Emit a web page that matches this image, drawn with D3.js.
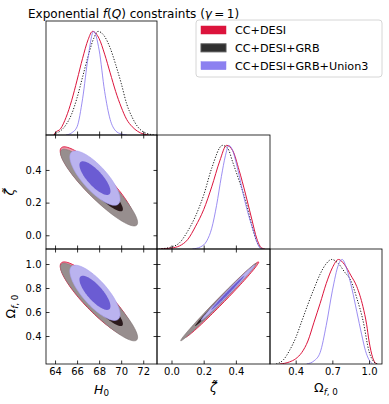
<!DOCTYPE html>
<html><head><meta charset="utf-8">
<script src="https://cdn.jsdelivr.net/npm/d3@7"></script>
<style>body{margin:0;background:#fff}svg text{font-family:"DejaVu Sans",sans-serif;fill:#000}</style>
</head><body><svg id="c" width="389" height="404"></svg>
<script>
// ---------- data ----------
const seriesNames = ["CC+DESI", "CC+DESI+GRB", "CC+DESI+GRB+Union3"];
const lineColors = ["#dc143c", "#000000", "#7b68ee"];
const legendFill = ["#dc143c", "#303030", "#8c80f0"];
const fillOuter = ["#ef9aab", "#978e8e", "#bab3ef"];
const fillInner = ["#dc143c", "#2b1a1c", "#6b5cd3"];

// 2D summary (per series): means, standard deviations, correlations
const meanH0 = [67.80, 67.99, 67.62];
const meanZeta = [0.314, 0.292, 0.350];
const meanOmega = [0.704, 0.683, 0.760];
const sdH0 = [1.36, 1.43, 0.93];
const sdZeta = [0.093, 0.096, 0.068];
const sdOmega = [0.128, 0.132, 0.094];
const corrH0Zeta = [-0.89, -0.91, -0.78];
const corrH0Omega = [-0.89, -0.91, -0.78];
const corrZetaOmega = [0.993, 0.995, 0.995];
const contourLevels = [2.448, 1.515]; // 95%, 68%

// 1D marginals [value, relative density]
const pdfH0 = [
  [[63.9,0],[64.0,0.02],[64.5,0.06],[65.0,0.17],[65.5,0.33],[66.0,0.53],[66.5,0.74],[67.0,0.92],[67.4,1.0],[68.0,0.93],[68.5,0.78],[69.0,0.60],[69.5,0.42],[70.0,0.27],[70.5,0.15],[71.0,0.08],[71.5,0.035],[72.0,0.01],[72.5,0]],
  [[63.9,0],[64.0,0.01],[64.5,0.04],[65.0,0.10],[65.5,0.20],[66.0,0.36],[66.5,0.56],[67.0,0.76],[67.5,0.93],[67.9,1.0],[68.5,0.95],[69.0,0.84],[69.5,0.68],[70.0,0.50],[70.5,0.30],[71.0,0.17],[71.5,0.08],[72.0,0.03],[72.5,0.01],[73.0,0]],
  [[65.0,0],[65.5,0.02],[66.0,0.08],[66.5,0.35],[67.0,0.75],[67.5,1.0],[68.0,0.82],[68.5,0.42],[69.0,0.15],[69.5,0.04],[70.0,0.01],[70.5,0]]
];
const pdfZeta = [
  [[-0.07,0],[0.0,0.01],[0.05,0.03],[0.10,0.09],[0.15,0.22],[0.20,0.38],[0.25,0.60],[0.30,0.85],[0.342,1.0],[0.38,0.95],[0.42,0.76],[0.46,0.53],[0.50,0.28],[0.53,0.10],[0.56,0.01],[0.58,0]],
  [[-0.08,0],[0.0,0.02],[0.05,0.06],[0.10,0.17],[0.15,0.32],[0.20,0.52],[0.25,0.78],[0.317,1.0],[0.35,0.97],[0.38,0.84],[0.42,0.66],[0.46,0.47],[0.50,0.22],[0.53,0.07],[0.56,0]],
  [[0.13,0],[0.18,0.02],[0.22,0.08],[0.25,0.20],[0.28,0.42],[0.31,0.70],[0.335,0.90],[0.356,1.0],[0.38,0.95],[0.41,0.78],[0.45,0.50],[0.48,0.32],[0.51,0.17],[0.53,0.07],[0.55,0.01],[0.57,0]]
];
const pdfOmega = [
  [[0.27,0],[0.35,0.02],[0.40,0.05],[0.45,0.11],[0.50,0.22],[0.55,0.40],[0.60,0.58],[0.65,0.77],[0.70,0.92],[0.75,1.0],[0.80,0.95],[0.85,0.85],[0.90,0.74],[0.95,0.55],[0.98,0.38],[1.00,0.22],[1.03,0.06],[1.06,0]],
  [[0.24,0],[0.30,0.04],[0.35,0.13],[0.40,0.25],[0.45,0.41],[0.50,0.57],[0.55,0.72],[0.60,0.86],[0.65,0.96],[0.695,1.0],[0.75,0.96],[0.80,0.88],[0.85,0.80],[0.90,0.63],[0.95,0.42],[1.00,0.12],[1.04,0.02],[1.07,0]],
  [[0.49,0],[0.55,0.03],[0.60,0.11],[0.65,0.37],[0.70,0.70],[0.75,0.95],[0.78,1.0],[0.82,0.90],[0.86,0.72],[0.90,0.50],[0.94,0.28],[0.97,0.13],[1.00,0.04],[1.03,0]]
];

const ticksH0 = [64, 66, 68, 70, 72];
const ticksZeta = [0.0, 0.2, 0.4];
const ticksOmegaX = [0.4, 0.7, 1.0];
const ticksOmegaY = [0.4, 0.6, 0.8, 1.0];
const rangeH0 = [63.18, 73.25];
const rangeZetaX = [-0.09, 0.612];
const rangeZetaY = [-0.084, 0.614];
const rangeOmegaX = [0.19, 1.106];
const rangeOmegaY = [0.167, 1.125];
const rangeDensity = [0, 1.1];

// ---------- layout ----------
const colX = [46, 157, 270, 382];
const rowY = [21, 135, 249, 364];
const TICK = 3.5;

const svg = d3.select("#c");
const xH0 = d3.scaleLinear().domain(rangeH0).range([colX[0], colX[1]]);
const xZeta = d3.scaleLinear().domain(rangeZetaX).range([colX[1], colX[2]]);
const xOmega = d3.scaleLinear().domain(rangeOmegaX).range([colX[2], colX[3]]);
const yZeta = d3.scaleLinear().domain(rangeZetaY).range([rowY[2], rowY[1]]);
const yOmega = d3.scaleLinear().domain(rangeOmegaY).range([rowY[3], rowY[2]]);
const yDens = [0,1,2].map(r => d3.scaleLinear().domain(rangeDensity).range([rowY[r+1], rowY[r]]));
const xScales = [xH0, xZeta, xOmega];
const yScales = [null, yZeta, yOmega];
const xTicks = [ticksH0, ticksZeta, ticksOmegaX];
const yTicks = [null, ticksZeta, ticksOmegaY];
const fmt = [d3.format("d"), d3.format(".1f"), d3.format(".1f")];

const defs = svg.append("defs");
function clipFor(c, r) {
  const id = `clip${c}${r}`;
  defs.append("clipPath").attr("id", id).append("rect")
    .attr("x", colX[c]).attr("y", rowY[r]).attr("width", colX[c+1]-colX[c]).attr("height", rowY[r+1]-rowY[r]);
  return `url(#${id})`;
}

function ellipse(mx, my, sx, sy, rho, k) {
  return d3.range(0, 96).map(i => {
    const t = 2 * Math.PI * i / 96, u = Math.cos(t), v = Math.sin(t);
    return [mx + sx * k * u, my + sy * k * (rho * u + Math.sqrt(1 - rho * rho) * v)];
  });
}

const means = [meanH0, meanZeta, meanOmega];
const sds = [sdH0, sdZeta, sdOmega];
function corr(a, b, s) {
  const key = [a, b].sort().join("");
  if (key === "01") return corrH0Zeta[s];
  if (key === "02") return corrH0Omega[s];
  return corrZetaOmega[s];
}

// 2D panels
[[0,1],[0,2],[1,2]].forEach(([c, r]) => {
  const xs = xScales[c], ys = yScales[r];
  const g = svg.append("g").attr("clip-path", clipFor(c, r));
  const line = d3.line().x(d => xs(d[0])).y(d => ys(d[1])).curve(d3.curveLinearClosed);
  [0,1,2].forEach(s => {
    const rho = corr(c, r, s);
    contourLevels.forEach((k, li) => {
      const pts = ellipse(means[c][s], means[r][s], sds[c][s], sds[r][s], rho, k);
      const p = g.append("path").attr("d", line(pts))
        .attr("fill", li === 0 ? fillOuter[s] : fillInner[s]);
      if (li === 0) {
        p.attr("stroke", s === 0 ? lineColors[0] : (s === 1 ? "#7d7474" : "#a79ff0"))
         .attr("stroke-width", s === 0 ? 0.9 : 0.6);
      }
    });
  });
});

// 1D panels
const pdfs = [pdfH0, pdfZeta, pdfOmega];
[0,1,2].forEach(c => {
  const xs = xScales[c], ys = yDens[c];
  const g = svg.append("g").attr("clip-path", clipFor(c, c));
  const line = d3.line().x(d => xs(d[0])).y(d => ys(d[1])).curve(d3.curveMonotoneX);
  [0,1,2].forEach(s => {
    g.append("path").attr("d", line(pdfs[c][s])).attr("fill", "none")
      .attr("stroke", lineColors[s])
      .attr("stroke-opacity", s === 2 ? 0.75 : 1)
      .attr("stroke-width", s === 1 ? 0.9 : 1)
      .attr("stroke-dasharray", s === 1 ? "1.2,1.6" : null);
  });
});

// axes & frames
function styleAxis(g) {
  g.select(".domain").remove();
  g.selectAll(".tick line").attr("stroke", "#000").attr("stroke-width", 0.8);
  g.selectAll(".tick text").attr("font-size", 10).attr("font-family", "DejaVu Sans");
}
const panels = [[0,0],[0,1],[1,1],[0,2],[1,2],[2,2]];
panels.forEach(([c, r]) => {
  const xs = xScales[c];
  const bottomLabels = r === 2;
  svg.append("g").attr("transform", `translate(0,${rowY[r+1]})`)
    .call(d3.axisBottom(xs).tickValues(xTicks[c]).tickSize(-TICK).tickPadding(3.9)
      .tickFormat(bottomLabels ? fmt[c] : () => ""))
    .call(styleAxis);
  if (c !== r) {
    const ys = yScales[r];
    svg.append("g").attr("transform", `translate(0,${rowY[r]})`)
      .call(d3.axisTop(xs).tickValues(xTicks[c]).tickSize(-TICK).tickFormat(() => ""))
      .call(styleAxis);
    svg.append("g").attr("transform", `translate(${colX[c]},0)`)
      .call(d3.axisLeft(ys).tickValues(yTicks[r]).tickSize(-TICK).tickPadding(4.5)
        .tickFormat(c === 0 ? fmt[r] : () => ""))
      .call(styleAxis);
    svg.append("g").attr("transform", `translate(${colX[c+1]},0)`)
      .call(d3.axisRight(ys).tickValues(yTicks[r]).tickSize(-TICK).tickFormat(() => ""))
      .call(styleAxis);
  }
  svg.append("rect").attr("x", colX[c]).attr("y", rowY[r])
    .attr("width", colX[c+1]-colX[c]).attr("height", rowY[r+1]-rowY[r])
    .attr("fill", "none").attr("stroke", "#000").attr("stroke-width", 0.8);
});

// axis labels
const midX = c => (colX[c] + colX[c+1]) / 2;
const midY = r => (rowY[r] + rowY[r+1]) / 2;
const lab = 12.5;
let t = svg.append("text").attr("x", midX(0)).attr("y", 393.5).attr("text-anchor", "middle").attr("font-size", lab);
t.append("tspan").attr("font-style", "italic").text("H");
t.append("tspan").attr("font-size", lab*0.7).attr("dy", 2.5).text("0");
function zetaTilde(g) {
  g.append("tspan").attr("font-style", "italic").text("\u03B6\u0303");
}
t = svg.append("text").attr("x", midX(1)).attr("y", 392).attr("text-anchor", "middle").attr("font-size", lab);
zetaTilde(t);
function omegaLab(g) {
  g.append("tspan").text("\u03A9");
  g.append("tspan").attr("font-size", lab*0.7).attr("dy", 2.5).attr("font-style", "italic").text("f");
  g.append("tspan").attr("font-size", lab*0.7).text(", 0");
}
t = svg.append("text").attr("x", midX(2)).attr("y", 392).attr("text-anchor", "middle").attr("font-size", lab);
omegaLab(t);
t = svg.append("text").attr("transform", `translate(14,${midY(1)}) rotate(-90)`).attr("text-anchor", "middle").attr("font-size", lab);
zetaTilde(t);
t = svg.append("text").attr("transform", `translate(15,${midY(2)}) rotate(-90)`).attr("text-anchor", "middle").attr("font-size", lab);
omegaLab(t);

// title
t = svg.append("text").attr("x", 28).attr("y", 17.5).attr("font-size", 12);
t.append("tspan").text("Exponential ");
t.append("tspan").attr("font-style", "italic").text("f");
t.append("tspan").text("(");
t.append("tspan").attr("font-style", "italic").text("Q");
t.append("tspan").text(") constraints (");
t.append("tspan").attr("font-style", "italic").text("\u03B3");
t.append("tspan").text("\u2009=\u20091)");

// legend
const lg = svg.append("g");
lg.append("rect").attr("x", 196).attr("y", 20).attr("width", 186).attr("height", 57).attr("rx", 3)
  .attr("fill", "#fff").attr("fill-opacity", 0.8).attr("stroke", "#cccccc").attr("stroke-width", 0.8);
const legY = d3.scalePoint().domain(seriesNames).range([30, 65.7]);
seriesNames.forEach((name, i) => {
  lg.append("rect").attr("x", 201).attr("y", legY(name) - 4).attr("width", 25).attr("height", 8)
    .attr("fill", legendFill[i]).attr("stroke", i === 1 ? "#555" : legendFill[i]).attr("stroke-width", i === 1 ? 1 : 0.5);
  lg.append("text").attr("x", 235).attr("y", legY(name) + 4).attr("font-size", 11.2).text(name);
});
</script></body></html>
